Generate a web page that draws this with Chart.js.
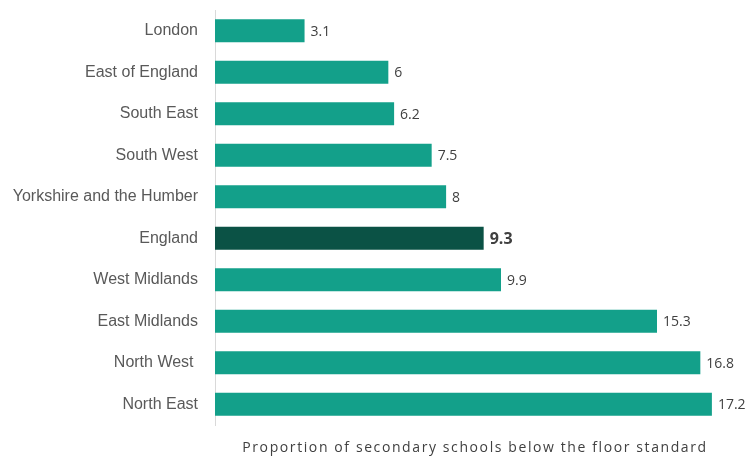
<!DOCTYPE html>
<html>
<head>
<meta charset="utf-8">
<script src="https://cdn.jsdelivr.net/npm/chart.js@4/dist/chart.umd.min.js"></script>
<style>
	html, body { margin: 0; padding: 0; background: #fff; }
	#wrap { width: 751px; height: 456px; }
</style>
</head>
<body>
<div id="wrap"><canvas id="floorChart" width="751" height="456"></canvas></div>
<script>
const regions = ['London', 'East of England', 'South East', 'South West', 'Yorkshire and the Humber', 'England', 'West Midlands', 'East Midlands', 'North West ', 'North East'];
const proportions = [3.1, 6, 6.2, 7.5, 8, 9.3, 9.9, 15.3, 16.8, 17.2];
const highlight = 'England';
const axisTitle = 'Proportion of secondary schools below the floor standard';

const barColours = regions.map((r) => (r === highlight ? '#0B5245' : '#13A08A'));

// writes the value just past the end of each bar, plus the axis title under the plot
const valueLabels = {
	id: 'valueLabels',
	afterDatasetsDraw(chart) {
		const ctx = chart.ctx;
		const meta = chart.getDatasetMeta(0);
		ctx.save();
		ctx.textBaseline = 'middle';
		ctx.textAlign = 'left';
		meta.data.forEach((bar, i) => {
			const bold = regions[i] === highlight;
			ctx.font = bold ? 'bold 16px "Open Sans", sans-serif' : '14px "Open Sans", sans-serif';
			ctx.fillStyle = '#404040';
			ctx.fillText(String(proportions[i]), bar.x + 6, bar.y + 1);
		});
		const area = chart.chartArea;
		ctx.font = '14px "Open Sans", sans-serif';
		ctx.fillStyle = '#404040';
		ctx.textAlign = 'center';
		ctx.letterSpacing = '1.6px';
		ctx.fillText(axisTitle, (area.left + area.right) / 2, 448);
		ctx.restore();
	},
};

new Chart(document.getElementById('floorChart').getContext('2d'), {
	type: 'bar',
	data: {
		labels: regions,
		datasets: [
			{
				data: proportions,
				backgroundColor: barColours,
				borderWidth: 0,
				barPercentage: 0.56,
				categoryPercentage: 1,
			},
		],
	},
	options: {
		indexAxis: 'y',
		responsive: false,
		animation: false,
		devicePixelRatio: 1,
		layout: { padding: { top: 10, right: 16, left: 0, bottom: 0 } },
		plugins: {
			legend: { display: false },
			tooltip: { enabled: false },
		},
		scales: {
			x: {
				min: 0,
				max: 18,
				grid: { display: false },
				border: { display: false },
				ticks: { display: false },
				afterFit(scale) {
					scale.height = 31;
				},
			},
			y: {
				grid: { display: false, drawTicks: false },
				border: { display: true, color: '#D9D9D9', width: 1 },
				ticks: {
					color: '#595959',
					padding: 17,
					font: { family: '"Liberation Sans", sans-serif', size: 16 },
				},
				afterFit(scale) {
					scale.width = 215;
					scale.paddingTop = 0;
					scale.paddingBottom = 0;
				},
			},
		},
	},
	plugins: [valueLabels],
});
</script>
</body>
</html>
